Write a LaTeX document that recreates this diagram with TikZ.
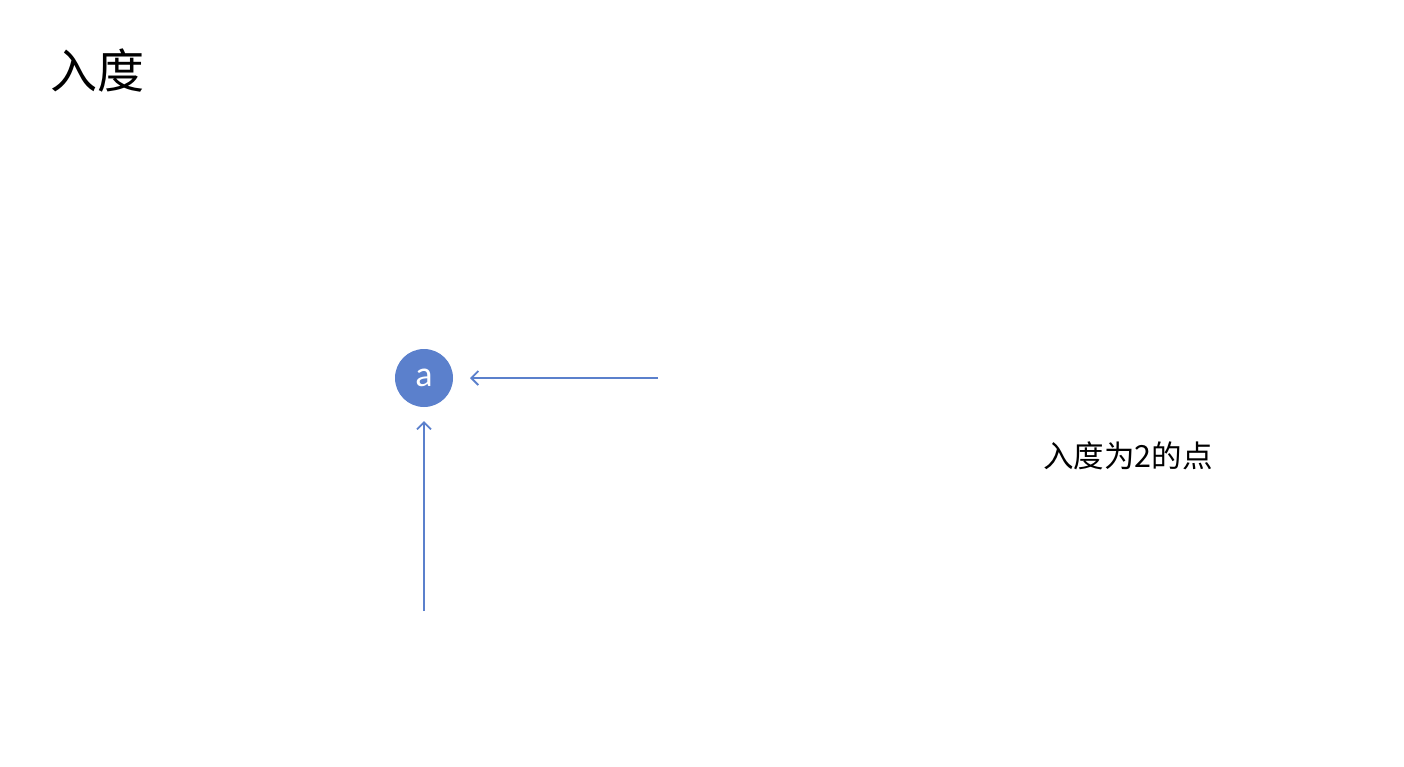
\documentclass[tikz,border=0pt]{standalone}
\usepackage{fontspec}
\setmainfont{Noto Sans CJK SC}
\newfontfamily\latinfont{Carlito}
\usetikzlibrary{arrows.meta}
\definecolor{nodeblue}{RGB}{91,128,204}
\tikzset{
  vertex/.style={circle,fill=nodeblue,minimum size=58pt,inner sep=0pt,text=white,font=\latinfont\fontsize{36pt}{36pt}\selectfont},
  edge/.style={draw=nodeblue,line width=2pt,-{Straight Barb[length=7pt,width=14pt,line width=1.8pt]}},
}
\begin{document}
\begin{tikzpicture}[x=1pt,y=-1pt]
\useasboundingbox (0,0) rectangle (1404,766);
\node[font=\fontsize{47pt}{47pt}\selectfont] (title) at (97,71) {入度};
\node[vertex] (a) at (424,378) {a};
\coordinate (r) at (658,378);
\coordinate (b) at (424,611);
\draw[edge] (r) -- (470,378);
\draw[edge] (b) -- (424,421);
\node[font=\fontsize{30.5pt}{30.5pt}\selectfont] (lbl) at (1128,456) {入度为2的点};
\end{tikzpicture}
\end{document}
